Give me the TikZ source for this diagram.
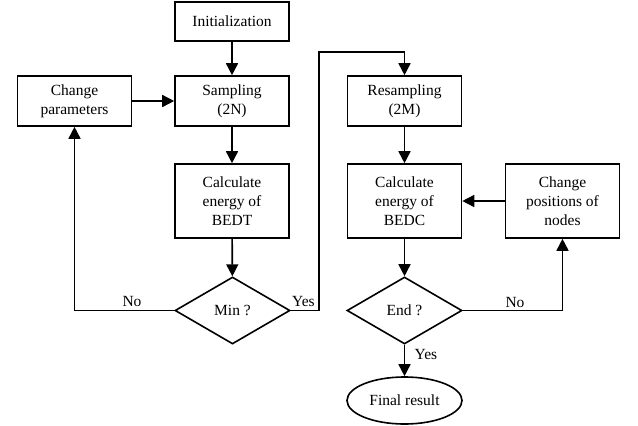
\documentclass[tikz,border=0pt]{standalone}
\usepackage{fontspec}
\setmainfont{Liberation Serif}
\usetikzlibrary{shapes.geometric,arrows.meta}
\begin{document}
\begin{tikzpicture}[x=1pt,y=-1pt,
  font=\fontsize{15.5}{19}\selectfont,
  every path/.style={line width=1.6pt},
  box/.style={draw,rectangle,minimum width=114pt,minimum height=50pt,inner sep=0pt,align=center},
  tallbox/.style={box,minimum height=74pt},
  dec/.style={draw,diamond,minimum width=115pt,minimum height=67pt,inner sep=0pt},
  term/.style={draw,ellipse,minimum width=115pt,minimum height=47pt,inner sep=0pt},
  arr/.style={-{Triangle[width=12pt,length=12pt]}},
  lbl/.style={inner sep=0pt}]
\useasboundingbox (0,0) rectangle (638,426);
\node[box,minimum height=39pt] (init) at (232,21.5) {Initialization};
\node[box] (samp) at (232,101) {Sampling\\(2N)};
\node[box] (cp) at (74.5,101) {Change\\parameters};
\node[tallbox] (bedt) at (232,201) {Calculate\\energy of\\BEDT};
\node[dec] (min) at (232.5,310.5) {Min ?};
\node[box] (resamp) at (404.5,101) {Resampling\\(2M)};
\node[tallbox] (bedc) at (404.5,201) {Calculate\\energy of\\BEDC};
\node[tallbox] (cpos) at (562.5,201) {Change\\positions of\\nodes};
\node[dec] (end) at (404.5,310.5) {End ?};
\node[term] (final) at (404.5,400.5) {Final result};
\coordinate (c1) at (319,52);
\draw[arr] (init) -- (samp);
\draw[arr] (cp) -- (samp);
\draw[arr] (samp) -- (bedt);
\draw[arr] (bedt) -- (min);
\draw[arr] (min.west) -| (cp.south);
\draw[arr] (min.east) -| (c1) -| (resamp.north);
\draw[arr] (resamp) -- (bedc);
\draw[arr] (cpos) -- (bedc);
\draw[arr] (bedc) -- (end);
\draw[arr] (end.east) -| (cpos.south);
\draw[arr] (end.south) -- (final.north);
\node[lbl] (lno1) at (132,301) {No};
\node[lbl] (lyes1) at (303.5,301) {Yes};
\node[lbl] (lno2) at (515,302) {No};
\node[lbl] (lyes2) at (426,354) {Yes};
\end{tikzpicture}
\end{document}
